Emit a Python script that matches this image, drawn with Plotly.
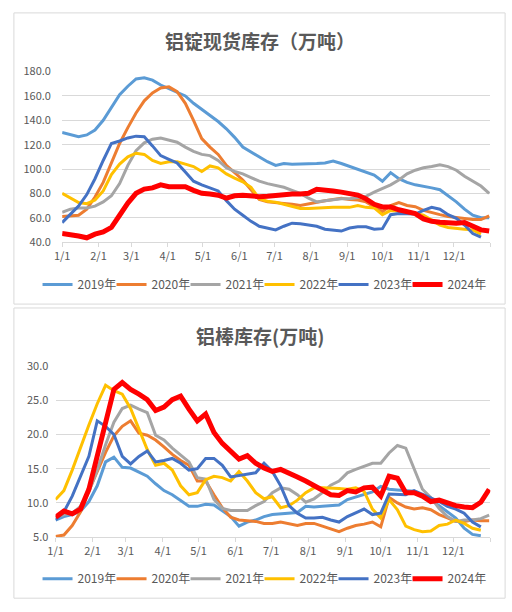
import pandas as pd
import plotly.graph_objects as go

# weekly points, every year laid on the same calendar (1/1 .. 12/31)
dates = pd.date_range("2019-01-01", periods=53, freq="7D").strftime("%Y-%m-%d").tolist()

years = ["2019年", "2020年", "2021年", "2022年", "2023年", "2024年"]
colors = ["#5B9BD5", "#ED7D31", "#A5A5A5", "#FFC000", "#4472C4", "#FF0000"]
widths = [3, 3, 3, 3, 3, 5]

month_ticks = ["2019-%02d-01" % m for m in range(1, 13)] + ["2020-01-01"]
month_labels = ["1/1", "2/1", "3/1", "4/1", "5/1", "6/1", "7/1",
                "8/1", "9/1", "10/1", "11/1", "12/1", ""]

# 铝锭现货库存（万吨）
ingot_2019 = [130, 128.5, 126.5, 128, 132, 140, 151, 161, 168, 174, 175, 173, 169, 166, 163, 160, 154, 149,
              144, 139, 133, 126, 118, 114, 110, 106, 103, 104.5, 104, 104, 104, 104.5, 105, 106.5, 104.5,
              102, 100, 97, 95, 90, 97, 92, 89, 87, 86, 84.5, 83, 78, 73, 67, 62, 60, 60]
ingot_2020 = [61, 61.5, 62, 67, 77, 89, 105, 121, 134, 146, 156, 162.5, 166.5, 167.5, 163.5, 154, 140, 125,
              118, 112, 103, 97, 91, 83, 75, 73, 72.5, 71.5, 71, 70, 71.5, 73, 74, 75, 76, 75, 74.5, 73,
              69, 65, 70, 72.5, 70, 69, 66, 64, 62.5, 61, 60, 59, 58.5, 58.5, 61.5]
ingot_2021 = [64.5, 67, 68, 68, 69.5, 73, 78, 88, 103, 115, 121.5, 124.5, 125.5, 124, 122, 118, 114.5, 112,
              111, 107, 101, 98, 96, 93, 90, 88, 86.5, 85, 82.5, 80, 76, 73, 74, 75, 75.5, 75.5, 76.5,
              77.5, 81, 84, 87, 91, 96, 99, 101, 102, 103.5, 102, 99, 94, 90, 86, 80]
ingot_2022 = [80, 76, 72.5, 71.5, 74.5, 82, 95.5, 104, 110, 113, 112, 107, 104.5, 106, 106, 104, 102, 98,
              102.5, 101, 96, 92.5, 89.5, 85, 75.5, 73.5, 72.8, 71, 69, 67.5, 67.5, 68, 68, 68.5, 68.5,
              68.5, 70, 68.5, 68, 62.5, 66, 65.5, 65, 63.5, 62, 58, 54, 52, 51, 50.5, 50, 46.5, None]
ingot_2023 = [56, 62.5, 69.5, 79, 92, 107, 121, 123, 125.5, 127, 126.5, 119, 111, 108, 105, 97.5, 90, 87,
              84.5, 82, 74, 67, 62, 57, 53, 51.4, 50, 53, 55.5, 55, 54, 53, 50.5, 49.5, 49, 51.5, 52.5,
              52.5, 50.5, 51, 62.5, 63.5, 63, 63, 66, 68.5, 67, 62.5, 59.5, 54, 47, 44, None]
ingot_2024 = [47, 46.3, 45, 43.5, 46.5, 48.3, 52, 62, 72, 80, 83.5, 84.5, 87, 85.5, 86, 85.5, 82.5, 80,
              79.5, 78.5, 76, 78, 78.5, 77.5, 77.3, 77.6, 78.5, 79.4, 79.4, 79.4, 80, 83.4, 83, 82, 81, 80,
              78.6, 75.5, 71, 68.8, 68.8, 66.5, 64.8, 63.4, 59, 57, 56.3, 55.8, 55.5, 56, 52.5, 50, 49]

# 铝棒库存(万吨)
rod_2019 = [7.5, 8, 8.3, 8.8, 10.2, 12.5, 16, 16.7, 15.2, 15.1, 14.5, 13.9, 12.8, 11.8, 11.2, 10.4, 9.5,
            9.5, 9.8, 9.7, 8.9, 8, 6.6, 7.2, 7.5, 8, 8.3, 8.4, 8.4, 8.6, 9.5, 9.4, 9.5, 9.6, 9.7, 10.5,
            10.9, 11.2, 11.6, 12.4, 12, 11.9, 11.8, 11.7, 11, 10.5, 9.6, 8.7, 7.8, 6.3, 5.4, 5.2, None]
rod_2020 = [5.1, 5.3, 6.7, 8.7, 11.8, 14.7, 17.4, 19.8, 21.2, 22, 20.2, 19.9, 19.2, 18.2, 17.1, 16.2,
            15.5, 13.2, 13.2, 11.2, 9.3, 7.9, 7.5, 7.4, 7.3, 7, 7, 7.2, 7, 6.7, 7, 7, 6.6, 6.2, 5.8, 6.3,
            6.7, 6.9, 7.2, 6.5, 10.8, 10, 9.4, 9.1, 9.3, 9, 8.3, 7.8, 7.3, 7.3, 7.5, 7.4, 7.4]
rod_2021 = [7.8, 8.3, 8.5, 9.5, 11.6, 14.8, 18.5, 21.8, 23.8, 24.3, 23.7, 23.2, 19.9, 19.2, 18, 17, 16,
            13.7, 13.5, 10.5, 9.2, 8.9, 8.9, 8.9, 9.6, 10.2, 11.5, 12.2, 12, 11.2, 10.1, 10.6, 11.5, 12.6,
            13.2, 14.4, 14.9, 15.4, 15.8, 15.8, 17.3, 18.4, 18, 15, 12, 10.8, 9.2, 8, 7.3, 7.5, 7.5, 7.7, 8.2]
rod_2022 = [10.5, 11.8, 14.8, 18.2, 21.4, 24.5, 27.2, 26.4, 25.9, 23.8, 20.8, 17.8, 15.5, 15.8, 14.8,
            12.5, 11.2, 11.5, 13.4, 13.9, 13.7, 13.2, 14.6, 13.2, 11.5, 10.6, 10.9, 9.3, 9.6, 10.4, 11.5,
            12.2, 12.2, 12.2, 12.1, 12, 12.2, 11.7, 9.1, 7.8, 10.5, 9, 6.6, 6.1, 5.8, 5.9, 6.7, 6.9, 7.5,
            7, 6.3, 6, None]
rod_2023 = [7.5, 8.7, 11, 14, 16.8, 22, 21.2, 20, 16.8, 15.7, 16.8, 17.6, 16, 16.2, 16.5, 15.8, 14.8, 15,
            16.5, 16.5, 15.5, 13.8, 14, 14.3, 14.4, 15.8, 14.6, 12.5, 9.6, 8.5, 7.8, 7.8, 7.9, 7.5, 7.2,
            8, 8.6, 9.1, 8.3, 8.5, 11.3, 11.2, 11.2, 11.8, 11.3, 10.7, 10.2, 9.5, 9.1, 8.5, 7.2, 6.5, None]
rod_2024 = [7.9, 8.8, 8.4, 9.1, 12, 16.8, 22.2, 26.6, 27.6, 26.6, 25.9, 25.1, 23.5, 24, 25.1, 25.6, 23.7,
            22, 23, 20.3, 18.7, 17.5, 16.4, 16.9, 15.8, 15.1, 14.6, 14.9, 14.4, 13.8, 13.2, 12.5, 11.8,
            11.2, 11.1, 11.8, 11.6, 12.2, 12.3, 11, 13.9, 13.6, 11.5, 11.5, 11, 10.2, 10.4, 10, 9.6, 9.4,
            9.3, 10.1, 12]

ingot = [ingot_2019, ingot_2020, ingot_2021, ingot_2022, ingot_2023, ingot_2024]
rod = [rod_2019, rod_2020, rod_2021, rod_2022, rod_2023, rod_2024]

fig = go.Figure()

# last legend entry gets a wider slot so its text is not clipped
for i in range(len(years)):
    fig.add_trace(go.Scatter(x=dates, y=ingot[i], name=years[i], mode="lines",
                             line=dict(color=colors[i], width=widths[i]),
                             legendwidth=45 if i == len(years) - 1 else None,
                             xaxis="x", yaxis="y", legend="legend"))
for i in range(len(years)):
    fig.add_trace(go.Scatter(x=dates, y=rod[i], name=years[i], mode="lines",
                             line=dict(color=colors[i], width=widths[i]),
                             legendwidth=45 if i == len(years) - 1 else None,
                             xaxis="x2", yaxis="y2", legend="legend2"))

grey = "#595959"
grid = "#D9D9D9"
W, H = 512, 612

xcommon = dict(type="date", range=["2019-01-01", "2020-01-01"],
               tickmode="array", tickvals=month_ticks, ticktext=month_labels,
               ticks="outside", ticklen=4, tickcolor=grid,
               showline=True, linecolor=grid, linewidth=1,
               showgrid=False, zeroline=False,
               tickfont=dict(size=11, color=grey))
ycommon = dict(showgrid=True, gridcolor=grid, gridwidth=1, zeroline=False,
               showline=False, tickformat=".1f", ticks="outside",
               tickcolor="rgba(0,0,0,0)", tickfont=dict(size=11, color=grey))

fig.update_layout(
    width=W, height=H, autosize=False,
    margin=dict(l=0, r=0, t=0, b=0),
    paper_bgcolor="white", plot_bgcolor="white",
    font=dict(family="Noto Sans CJK SC", color=grey),
    xaxis=dict(xcommon, domain=[55 / W, 490 / W], anchor="y"),
    yaxis=dict(ycommon, domain=[1 - 239.3 / H, 1 - 64.3 / H], range=[40, 180], dtick=20,
               ticklen=8, anchor="x"),
    xaxis2=dict(xcommon, domain=[48.3 / W, 490 / W], anchor="y2"),
    yaxis2=dict(ycommon, domain=[1 - 542.3 / H, 1 - 366.7 / H], range=[5, 30], dtick=5,
                ticklen=4, anchor="x2"),
    legend=dict(orientation="h", x=30 / W, xanchor="left", y=1 - 283 / H, yanchor="middle",
                entrywidth=29, font=dict(size=12, color=grey), bgcolor="rgba(0,0,0,0)"),
    legend2=dict(orientation="h", x=30 / W, xanchor="left", y=1 - 585 / H, yanchor="middle",
                 entrywidth=29, font=dict(size=12, color=grey), bgcolor="rgba(0,0,0,0)"),
    annotations=[
        dict(text="<b>铝锭现货库存（万吨）</b>", x=0.5, y=1 - 32 / H, xref="paper", yref="paper",
             yanchor="middle", showarrow=False, font=dict(size=19, color=grey)),
        dict(text="<b>铝棒库存(万吨)</b>", x=0.5, y=1 - 335 / H, xref="paper", yref="paper",
             yanchor="middle", showarrow=False, font=dict(size=19, color=grey)),
    ],
    shapes=[
        dict(type="rect", xref="paper", yref="paper", x0=6 / W, x1=505 / W,
             y0=1 - 303 / H, y1=1 - 4 / H, line=dict(color=grid, width=1)),
        dict(type="rect", xref="paper", yref="paper", x0=6 / W, x1=505 / W,
             y0=1 - 605 / H, y1=1 - 307 / H, line=dict(color=grid, width=1)),
    ],
    showlegend=True,
)

# page without the default body margin, so the 512x612 figure fills the window
fig.write_html("out.html", config={"displayModeBar": False},
               post_script="document.body.style.margin='0';")
